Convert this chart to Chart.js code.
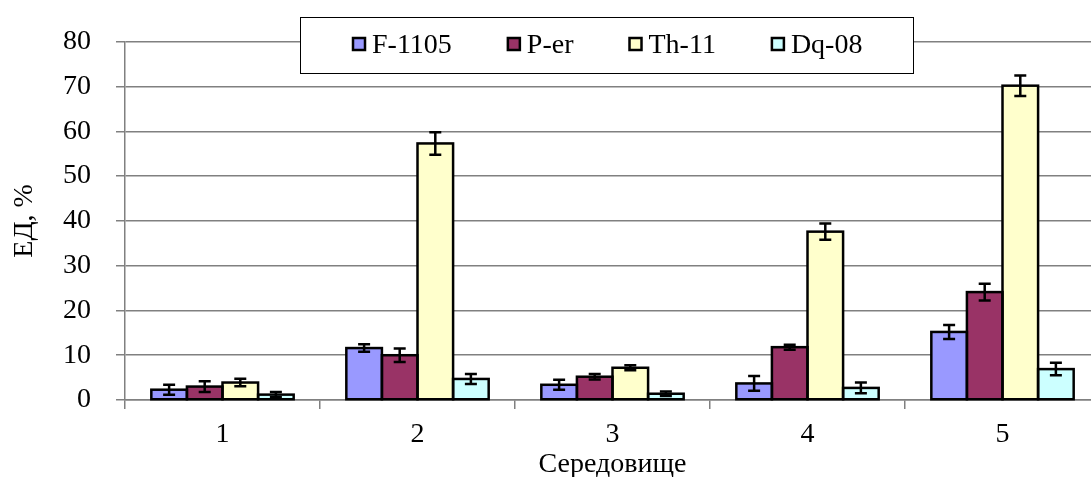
<!DOCTYPE html>
<html>
<head>
<meta charset="utf-8">
<script src="https://cdn.jsdelivr.net/npm/chart.js@4"></script>
<style>
  html, body { margin: 0; padding: 0; background: #fff; overflow: hidden; }
  #wrap { width: 1105px; height: 477px; }
</style>
</head>
<body>
<div id="wrap"><canvas id="c" width="1105" height="477"></canvas></div>
<script>
const categories = ['1', '2', '3', '4', '5'];
const seriesNames = ['F-1105', 'P-er', 'Th-11', 'Dq-08'];
const f1105 = [2.3, 11.6, 3.4, 3.7, 15.2];
const per   = [3.0, 10.0, 5.2, 11.8, 24.1];
const th11  = [3.9, 57.3, 7.2, 37.6, 70.2];
const dq08  = [1.2, 4.7, 1.4, 2.7, 6.9];
const errF1105 = [1.1, 0.85, 1.1, 1.65, 1.55];
const errPer   = [1.2, 1.5, 0.6, 0.55, 1.85];
const errTh11  = [0.85, 2.5, 0.55, 1.8, 2.3];
const errDq08  = [0.6, 1.1, 0.5, 1.2, 1.4];
const yTicks = [0, 10, 20, 30, 40, 50, 60, 70, 80];
const xTitle = 'Середовище';
const yTitle = 'ЕД, %';

const colors = ['#9999FF', '#993366', '#FFFFCC', '#CCFFFF'];
const values = [f1105, per, th11, dq08];
const errors = [errF1105, errPer, errTh11, errDq08];
const FONT = '"Liberation Serif", "Times New Roman", serif';

const outlinesAndErrors = {
  id: 'outlinesAndErrors',
  afterDatasetsDraw(chart) {
    const ctx = chart.ctx;
    const y = chart.scales.y;
    ctx.save();
    ctx.strokeStyle = '#000';
    // bar outlines centred on bar edges so neighbours share a border
    ctx.lineWidth = 2.5;
    chart.data.datasets.forEach((ds, i) => {
      const meta = chart.getDatasetMeta(i);
      meta.data.forEach(el => {
        const p = el.getProps(['x', 'y', 'base', 'width'], true);
        ctx.strokeRect(p.x - p.width / 2, p.y, p.width, p.base - p.y);
      });
    });
    // error bars
    ctx.lineWidth = 2.5;
    chart.data.datasets.forEach((ds, i) => {
      const meta = chart.getDatasetMeta(i);
      meta.data.forEach((el, j) => {
        const v = ds.data[j], e = ds.errors[j];
        const y1 = y.getPixelForValue(v + e);
        const y2 = y.getPixelForValue(v - e);
        const x = el.x, c = 6;
        ctx.beginPath();
        ctx.moveTo(x, y1); ctx.lineTo(x, y2);
        ctx.moveTo(x - c, y1); ctx.lineTo(x + c, y1);
        ctx.moveTo(x - c, y2); ctx.lineTo(x + c, y2);
        ctx.stroke();
      });
    });
    ctx.restore();
  }
};

const boxLegend = {
  id: 'boxLegend',
  afterDraw(chart) {
    const ctx = chart.ctx;
    ctx.save();
    const bx = 300, by = 17, bw = 613, bh = 56;
    ctx.fillStyle = '#fff';
    ctx.fillRect(bx, by, bw, bh);
    ctx.strokeStyle = '#000';
    ctx.lineWidth = 1;
    ctx.strokeRect(bx + 0.5, by + 0.5, bw, bh);
    ctx.font = '28px ' + FONT;
    ctx.textBaseline = 'middle';
    let x = 352;
    const cy = by + bh / 2;
    chart.data.datasets.forEach(ds => {
      ctx.fillStyle = ds.backgroundColor;
      ctx.fillRect(x + 1, cy - 7, 12, 12);
      ctx.lineWidth = 2.5;
      ctx.strokeStyle = '#000';
      ctx.strokeRect(x + 1, cy - 7, 12, 12);
      ctx.fillStyle = '#000';
      ctx.fillText(ds.label, x + 20, cy + 1);
      x += 20 + ctx.measureText(ds.label).width + 55;
    });
    ctx.restore();
  }
};

new Chart(document.getElementById('c'), {
  type: 'bar',
  data: {
    labels: categories,
    datasets: seriesNames.map((n, i) => ({
      label: n,
      data: values[i],
      errors: errors[i],
      backgroundColor: colors[i],
      borderWidth: 0,
      inflateAmount: 0,
      categoryPercentage: 0.73,
      barPercentage: 1.0
    }))
  },
  options: {
    responsive: false,
    animation: false,
    events: [],
    layout: { padding: { top: 40, right: 5, left: 0, bottom: 0 } },
    plugins: { legend: { display: false }, tooltip: { enabled: false } },
    scales: {
      x: {
        grid: { display: true, offset: true, drawOnChartArea: false, drawTicks: true, tickLength: 9, color: '#808080', lineWidth: 1.5 },
        border: { display: true, color: '#808080', width: 1.5 },
        ticks: { color: '#000', font: { family: FONT, size: 28 }, padding: 9 },
        title: { display: true, text: xTitle, color: '#000', font: { family: FONT, size: 28, lineHeight: 1.0 }, padding: { top: 0, bottom: -2 } },
        afterFit(s) { s.height = 77; }
      },
      y: {
        min: 0, max: 80,
        afterBuildTicks(s) { s.ticks = yTicks.map(v => ({ value: v })); },
        grid: { color: '#808080', lineWidth: 1.5, drawTicks: true, tickLength: 9 },
        border: { display: true, color: '#808080', width: 1.5 },
        ticks: { color: '#000', font: { family: FONT, size: 28 }, padding: 25 },
        title: { display: true, text: yTitle, color: '#000', font: { family: FONT, size: 28 }, padding: { top: 8, bottom: 0 } },
        afterFit(s) { s.width = 125; }
      }
    }
  },
  plugins: [outlinesAndErrors, boxLegend]
});
</script>
</body>
</html>
